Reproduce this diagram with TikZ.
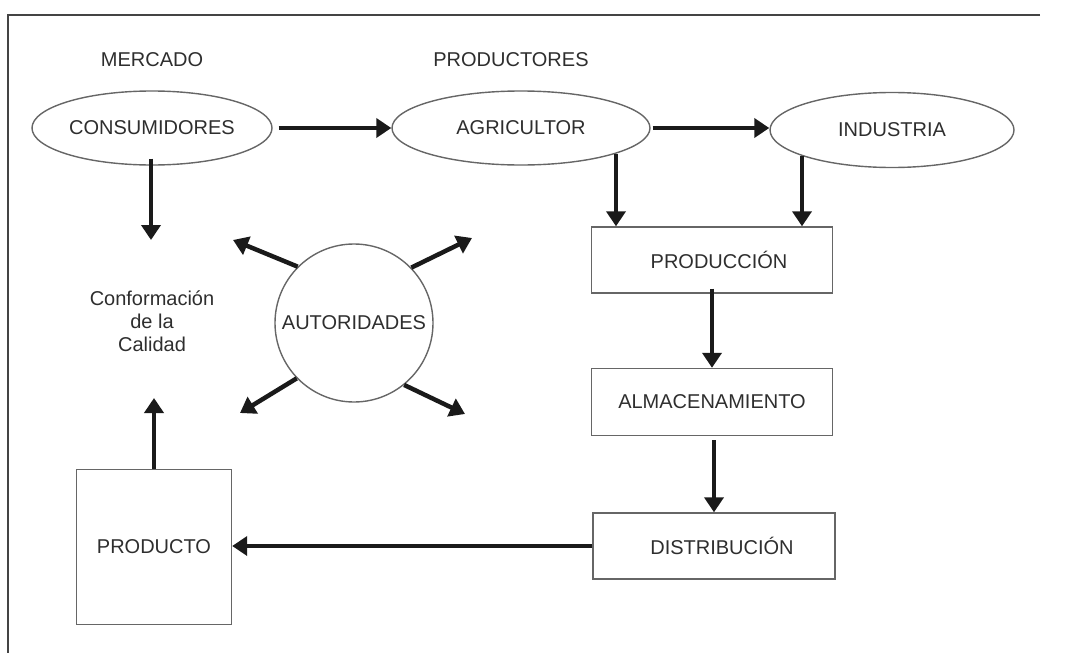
\documentclass[tikz,border=0pt]{standalone}
\usepackage{fontspec}
\setmainfont{Liberation Sans}
\usetikzlibrary{arrows.meta,shapes.geometric}
\definecolor{txt}{HTML}{2E2E2E}
\definecolor{shp}{HTML}{666666}
\definecolor{arw}{HTML}{1A1A1A}
\definecolor{frm}{HTML}{444444}
\begin{document}
\begin{tikzpicture}[x=1pt,y=-1pt,
  every node/.style={font=\fontsize{20}{23}\selectfont, text=txt},
  ell/.style={ellipse, draw=shp, line width=1.4pt, inner sep=0pt},
  boxn/.style={rectangle, draw=shp, line width=1.4pt, inner sep=0pt},
  arr/.style={draw=arw, line width=4.5pt, -{Triangle[length=15pt,width=19pt]}},
  frame/.style={draw=frm, line width=2pt}
]
\useasboundingbox (0,0) rectangle (1065,653);
\draw[frame] (1040,15) -- (8,15) -- (8,653);

\node (mercado) at (152,60) {MERCADO};
\node (productores) at (511,60) {PRODUCTORES};

\node[ell, minimum width=240pt, minimum height=74pt] (cons) at (152,128) {CONSUMIDORES};
\node[ell, minimum width=258pt, minimum height=74pt] (agri) at (521,128) {AGRICULTOR};
\node[ell, minimum width=244pt, minimum height=75pt] (ind) at (892,130) {INDUSTRIA};

\node[boxn, minimum width=241pt, minimum height=66pt] (prod) at (712,260) {\hspace*{14pt}PRODUCCIÓN};
\node[boxn, minimum width=241pt, minimum height=67pt] (alm) at (712,402) {ALMACENAMIENTO};
\node[boxn, minimum width=242pt, minimum height=66pt] (dist) at (714,546) {\hspace*{16pt}DISTRIBUCIÓN};
\node[boxn, minimum width=155pt, minimum height=155pt] (producto) at (154,547) {PRODUCTO};

\node[circle, draw=shp, line width=1.4pt, inner sep=0pt, minimum size=158pt] (aut) at (354,323) {AUTORIDADES};

\node[align=center] (conf) at (152,321) {Conformación\\de la\\Calidad};

% connectors
\draw[arr] ([xshift=6pt]cons.east) -- (cons.east -| agri.west);
\draw[arr] ([xshift=2pt]agri.east |- cons.east) -- (cons.east -| ind.west);

\coordinate (a1) at (616,154);
\coordinate (i1) at (802,156);
\draw[arr] (a1) -- (a1 |- prod.north);
\draw[arr] (i1) -- (i1 |- prod.north);
\draw[arr] ([yshift=5pt]prod.south) -- (prod.south |- alm.north);
\coordinate (al1) at (714,440);
\draw[arr] (al1) -- (al1 |- dist.north);
\draw[arr] (dist.west) -- (dist.west -| producto.east);

\coordinate (conftop) at (151,240);
\coordinate (confbot) at (154,398);
\draw[arr] ([yshift=7pt]cons.south -| conftop) -- (conftop);
\draw[arr] (producto.north) -- (confbot);

\coordinate (ul) at (233,240);
\coordinate (ur) at (472,238);
\coordinate (ll) at (240,413);
\coordinate (lr) at (465,414);
\draw[arr] (aut.135) -- (ul);
\draw[arr] (aut.44) -- (ur);
\draw[arr] (aut.224) -- (ll);
\draw[arr] (aut.-51) -- (lr);
\end{tikzpicture}
\end{document}
